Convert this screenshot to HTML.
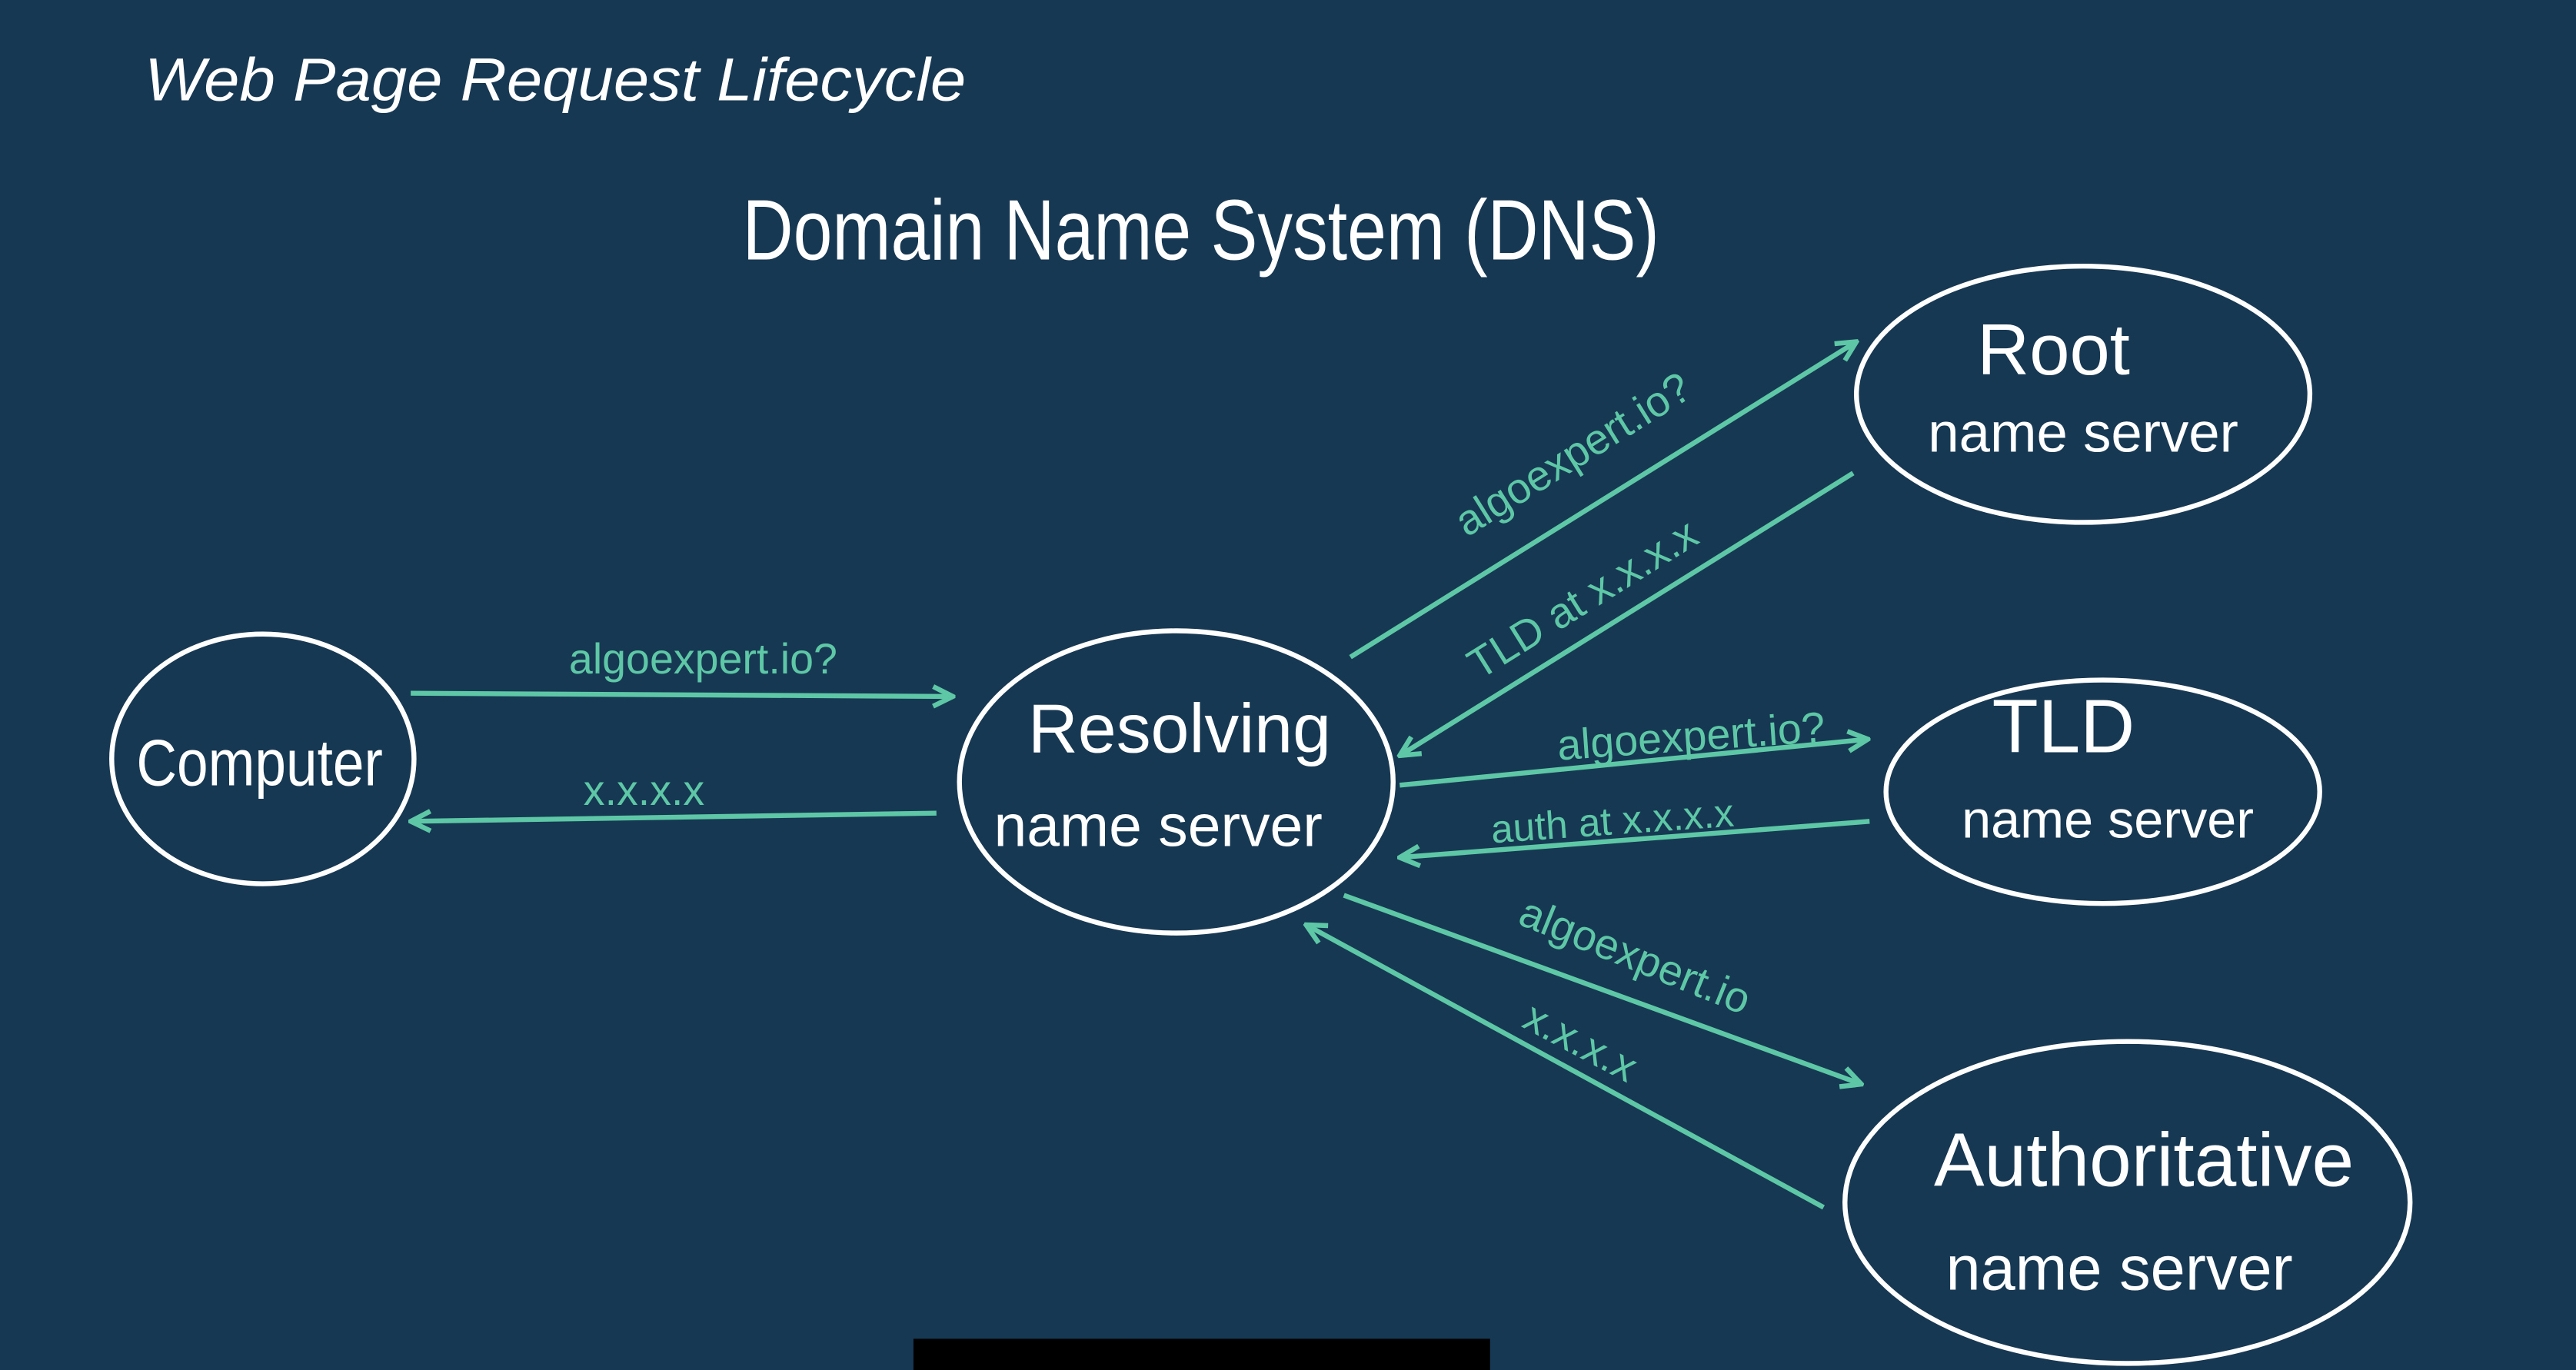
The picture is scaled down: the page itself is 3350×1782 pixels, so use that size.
<!DOCTYPE html>
<html><head><meta charset="utf-8"><style>
html,body{margin:0;padding:0;background:#163853;overflow:hidden}
svg{display:block}
</style></head><body>
<svg width="3350" height="1782" viewBox="0 0 1568 834" preserveAspectRatio="none" xmlns="http://www.w3.org/2000/svg">
<defs>
<marker id="a" viewBox="0 0 10 10" refX="9" refY="5" markerWidth="5" markerHeight="5" orient="auto-start-reverse">
<path d="M1,1 L9,5 L1,9" fill="none" stroke="#5ec7a6" stroke-width="2"/>
</marker>
</defs>
<rect width="1568" height="834" fill="#163853"/>
<text x="88" y="61" font-family="Liberation Sans, sans-serif" font-style="italic" font-size="37" fill="#fff" textLength="500" lengthAdjust="spacingAndGlyphs">Web Page Request Lifecycle</text>
<text x="452" y="158" font-family="Liberation Sans, sans-serif" font-size="52" fill="#fff" textLength="558" lengthAdjust="spacingAndGlyphs" font-weight="300">Domain Name System (DNS)</text>

<g fill="none" stroke="#fff" stroke-width="3">
<ellipse cx="160" cy="462" rx="92" ry="76"/>
<ellipse cx="716" cy="476" rx="132" ry="92"/>
<ellipse cx="1268" cy="240" rx="138" ry="78"/>
<ellipse cx="1280" cy="482" rx="132" ry="68"/>
<ellipse cx="1295" cy="732" rx="172" ry="98"/>
</g>

<g font-family="Liberation Sans, sans-serif" fill="#fff" text-anchor="middle">
<text x="158" y="478" font-size="40" textLength="150" lengthAdjust="spacingAndGlyphs">Computer</text>
<text x="718" y="458" font-size="42">Resolving</text>
<text x="705" y="515" font-size="36">name server</text>
<text x="1250" y="228" font-size="44">Root</text>
<text x="1268" y="275" font-size="34">name server</text>
<text x="1256" y="458" font-size="46">TLD</text>
<text x="1283" y="510" font-size="32">name server</text>
<text x="1305" y="722" font-size="46">Authoritative</text>
<text x="1290" y="785" font-size="38">name server</text>
</g>

<g fill="none" stroke="#5ec7a6" stroke-width="3" marker-end="url(#a)">
<line x1="250" y1="422" x2="580" y2="424"/>
<line x1="570" y1="495" x2="250" y2="500"/>
<line x1="822" y1="400" x2="1130" y2="208"/>
<line x1="1128" y1="288" x2="852" y2="460"/>
<line x1="852" y1="478" x2="1137" y2="450"/>
<line x1="1138" y1="500" x2="852" y2="522"/>
<line x1="818" y1="545" x2="1133" y2="660"/>
<line x1="1110" y1="735" x2="795" y2="563"/>
</g>

<g font-family="Liberation Sans, sans-serif" fill="#5ec7a6" font-size="26" text-anchor="middle">
<text x="428" y="410">algoexpert.io?</text>
<text x="392" y="490">x.x.x.x</text>
<text transform="translate(962,284) rotate(-32)">algoexpert.io?</text>
<text transform="translate(968,372) rotate(-32)">TLD at x.x.x.x</text>
<text transform="translate(1030,457) rotate(-4)">algoexpert.io?</text>
<text transform="translate(982,508) rotate(-4)" font-size="24">auth at x.x.x.x</text>
<text transform="translate(992,590) rotate(22)">algoexpert.io</text>
<text transform="translate(958,642) rotate(28)">x.x.x.x</text>
</g>

<rect x="556" y="815" width="351" height="20" fill="#000"/>
</svg>
</body></html>
